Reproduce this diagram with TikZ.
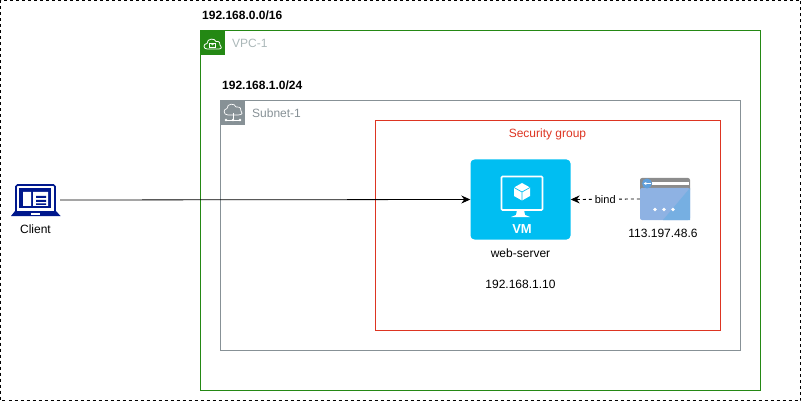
\documentclass[tikz,border=0pt]{standalone}
\usepackage{fontspec}
\setmainfont{Liberation Sans}
\usetikzlibrary{arrows.meta}
\definecolor{vpcgreen}{HTML}{248814}
\definecolor{subgray}{HTML}{879196}
\definecolor{sgred}{HTML}{DD3522}
\definecolor{vmblue}{HTML}{00BEF2}
\definecolor{navy}{HTML}{00188D}
\definecolor{lbl}{HTML}{AAB7B8}
\tikzset{
  x=1pt,y=-1pt,
  every node/.style={font=\fontsize{12}{14}\selectfont,inner sep=0pt},
  boxn/.style={draw,line width=1pt,fill=none,minimum width=0pt},
  iconline/.style={draw=white,line width=1pt,line join=round},
  tag/.style={font=\fontsize{12}{14}\selectfont\bfseries,anchor=west},
  arr/.style={-{Stealth[length=9pt,width=8pt,inset=3pt]},line width=0.8pt,black}
}
\begin{document}
\begin{tikzpicture}
\useasboundingbox (0,0) rectangle (801,401);
\draw[black,line width=1pt,dash pattern=on 3pt off 3pt] (0.5,0.5) rectangle (800.5,400.5);
% VPC
\draw[vpcgreen,line width=1pt] (200.5,30.5) rectangle (760.5,390.5);
\fill[vpcgreen] (200,30) rectangle (225,55);
\draw[white,line width=0.8pt,line join=round] (207,49) .. controls (203,49) and (203,43.5) .. (207,43.5) .. controls (207,38) and (215,38) .. (216,41.5) .. controls (219,41) and (221,43) .. (220,45) .. controls (222,46) and (222,49) .. (219,49) -- cycle;
\draw[white,line width=0.7pt] (209.5,43.5) rectangle (215.5,47.5);
\draw[white,line width=0.7pt] (211,43.5) arc[start angle=180,end angle=0,radius=1.5];
\node[anchor=west,text=lbl] (vpclabel) at (232,43) {VPC-1};
\node[tag] (cidr16) at (202,15.5) {192.168.0.0/16};
% Subnet
\draw[subgray,line width=1pt] (220.5,100.5) rectangle (740.5,350.5);
\fill[subgray] (220,100) rectangle (245,125);
\draw[white,line width=0.7pt,line join=round] (228,115) .. controls (223,115) and (223,109) .. (227,108.5) .. controls (227,103) and (235,103) .. (236,107) .. controls (240,106.5) and (242,109) .. (241,111) .. controls (243,112) and (243,115) .. (238,115) -- cycle;
\draw[white,line width=0.7pt] (233,113) -- (233,120) (225,120) -- (241,120);
\fill[white] (226,120) circle (1.4) (233,120) circle (1.4) (240,120) circle (1.4);
\node[anchor=west,text=subgray] (subnetlabel) at (252,113) {Subnet-1};
\node[tag] (cidr24) at (222,85) {192.168.1.0/24};
% Security group
\draw[sgred,line width=1pt] (375.5,120.5) rectangle (720.5,330.5);
\node[text=sgred] (sglabel) at (547.5,134) {Security group};
% VM
\node[fill=vmblue,rounded corners=4pt,minimum width=100pt,minimum height=80pt] (vm) at (520.5,199.5) {};
\draw[white,line width=1.6pt,rounded corners=1pt] (501.5,176.5) rectangle (542.5,210);
\fill[white] (517,210) -- (524,210) -- (525,215) -- (530,217) -- (511,217) -- (516,215) -- cycle;
\fill[white] (522,183) -- (530,187.5) -- (530,196) -- (522,200.5) -- (514,196) -- (514,187.5) -- cycle;
\draw[vmblue,line width=0.7pt] (514,187.5) -- (522,192) -- (530,187.5) (522,192) -- (522,200.5);
\node[text=white,font=\fontsize{13}{15}\selectfont\bfseries] (vmtext) at (522,229.5) {VM};
\node (webserver) at (520.5,253) {web-server};
\node (vmip) at (520.5,284) {192.168.1.10};
% Public IP icon
\node[fill=none,minimum width=50pt,minimum height=42pt] (eip) at (665,199) {};
\fill[rounded corners=2pt,fill=black!45!white] (640,178) rectangle (690,192);
\fill[fill=black!45!white] (640,186) rectangle (690,192);
\fill[rounded corners=2pt,fill=cyan!55!blue!45!white] (640,220) -- (690,220) -- (690,188) -- (640,188) -- cycle;
\fill[fill=cyan!65!blue!55!white] (663,220) -- (690,188) -- (690,220) -- cycle;
\fill[white] (652,182) rectangle (689,185);
\fill[cyan!60!blue!65!white] (647,183.5) circle (5);
\draw[white,line width=0.8pt,-{Stealth[length=3pt,width=3pt]}] (650.5,183.5) -- (643.5,183.5);
\fill[white] (655,209.5) circle (1.8) (664,209.5) circle (1.8) (673,209.5) circle (1.8);
\node (eiplabel) at (663,233.5) {113.197.48.6};
% Client
\node[minimum width=49pt,minimum height=32pt] (client) at (35.5,200) {};
\draw[navy,line width=1.6pt,rounded corners=1.5pt,fill=white] (16,213) -- (16,185) -- (55,185) -- (55,213);
\fill[navy] (19,188) rectangle (51,208);
\fill[white] (23,192) rectangle (31,206) (33,192) rectangle (48,206);
\fill[navy] (36,196) rectangle (46,198) (36,200) rectangle (46,202) (36,203.5) rectangle (46,205);
\fill[navy] (15,211) -- (56,211) -- (60.5,216) -- (11,216) -- cycle;
\fill[white] (31,213) rectangle (40,215);
\node (clientlabel) at (35.5,229.5) {Client};
% Connectors
\draw[arr] (client.east) -- (vm.west);
\draw[arr,dash pattern=on 3pt off 3pt] (eip.west) -- (vm.east) node[midway,fill=white,inner xsep=3pt,inner ysep=1pt,font=\fontsize{11}{13}\selectfont] (bind) {bind};
\end{tikzpicture}
\end{document}
